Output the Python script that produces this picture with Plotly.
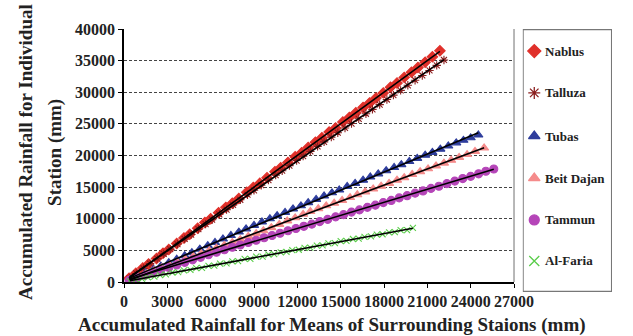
import numpy as np
import plotly.graph_objects as go

# ---------------- data ----------------
names = ["Nablus", "Talluza", "Tubas", "Beit Dajan", "Tammun", "Al-Faria"]

nablus_x = [350, 820, 1300, 1700, 2250, 2700, 3100, 3650, 4150, 4550, 5100, 5600, 6000, 6550, 7050, 7500,
            7950, 8500, 8950, 9400, 9900, 10450, 10850, 11350, 11850, 12300, 12750, 13250, 13700, 14200,
            14650, 15150, 15600, 16050, 16550, 17000, 17450, 17950, 18450, 18900, 19400, 19900, 20350,
            20850, 21350, 21870]
nablus_y = [600, 1400, 2200, 2850, 3700, 4550, 5150, 6100, 6950, 7550, 8500, 9400, 10000, 10950, 11800,
            12450, 13200, 14200, 14950, 15600, 16500, 17450, 18050, 18900, 19800, 20450, 21250, 22100,
            22800, 23700, 24350, 25300, 26000, 26750, 27600, 28300, 29100, 29900, 30800, 31450, 32350,
            33150, 33900, 34750, 35600, 36550]

talluza_x = [380, 850, 1350, 1800, 2300, 2750, 3200, 3700, 4200, 4650, 5150, 5650, 6100, 6600, 7100, 7550,
             8050, 8550, 9000, 9500, 10000, 10500, 10950, 11450, 11950, 12400, 12900, 13400, 13850, 14350,
             14800, 15300, 15750, 16250, 16750, 17200, 17700, 18200, 18650, 19150, 19650, 20150, 20650,
             21150, 21650, 22150]
talluza_y = [550, 1350, 2150, 2900, 3700, 4450, 5200, 6000, 6800, 7500, 8350, 9150, 9850, 10700, 11450,
             12200, 13000, 13800, 14500, 15300, 16100, 16900, 17600, 18400, 19200, 19900, 20650, 21450,
             22150, 22900, 23600, 24350, 25050, 25800, 26600, 27300, 28050, 28850, 29550, 30300, 31100,
             31900, 32650, 33450, 34250, 35100]

tubas_x = [400, 950, 1500, 2050, 2550, 3100, 3650, 4200, 4700, 5250, 5800, 6300, 6850, 7400, 7950, 8450,
           9000, 9550, 10100, 10600, 11150, 11700, 12250, 12750, 13300, 13850, 14400, 14900, 15450, 16000,
           16550, 17050, 17600, 18150, 18700, 19200, 19750, 20300, 20850, 21350, 21900, 22450, 23000,
           23500, 24000, 24530]
tubas_y = [380, 900, 1450, 2000, 2500, 3050, 3600, 4150, 4650, 5200, 5750, 6250, 6800, 7350, 7900, 8400,
           8950, 9500, 10000, 10500, 11000, 11550, 12050, 12550, 13050, 13600, 14100, 14550, 15100, 15600,
           16100, 16600, 17100, 17600, 18100, 18550, 19050, 19550, 20050, 20500, 21000, 21500, 22000,
           22400, 22800, 23240]

beit_x = [420, 980, 1530, 2080, 2600, 3150, 3700, 4250, 4800, 5350, 5900, 6400, 6950, 7500, 8050, 8600,
          9150, 9650, 10200, 10750, 11300, 11850, 12400, 12900, 13450, 14000, 14550, 15100, 15650, 16150,
          16700, 17250, 17800, 18350, 18900, 19400, 19950, 20500, 21050, 21600, 22150, 22650, 23200, 23750,
          24300, 24930]
beit_y = [330, 820, 1300, 1780, 2220, 2680, 3150, 3600, 4050, 4500, 4950, 5350, 5800, 6250, 6700, 7200,
          7650, 8100, 8600, 9100, 9650, 10150, 10700, 11150, 11600, 12050, 12450, 12900, 13350, 13800,
          14250, 14700, 15150, 15600, 16100, 16500, 17000, 17450, 17900, 18350, 18800, 19250, 19700, 20150,
          20650, 21190]

tammun_x = [350, 900, 1450, 2000, 2550, 3100, 3650, 4200, 4750, 5300, 5850, 6400, 6950, 7500, 8050, 8600,
            9150, 9700, 10250, 10800, 11350, 11900, 12450, 13000, 13550, 14100, 14650, 15200, 15750, 16300,
            16850, 17400, 17950, 18500, 19050, 19600, 20150, 20700, 21250, 21800, 22350, 22900, 23450,
            24000, 24550, 25050, 25600]
tammun_y = [250, 650, 1050, 1450, 1850, 2300, 2700, 3100, 3500, 3900, 4300, 4700, 5100, 5500, 5850, 6250,
            6600, 7000, 7350, 7700, 8100, 8450, 8800, 9150, 9550, 9900, 10300, 10650, 11050, 11400, 11800,
            12150, 12550, 12900, 13300, 13650, 14050, 14400, 14800, 15150, 15550, 15950, 16350, 16700,
            17100, 17500, 17870]

faria_x = [400, 820, 1250, 1650, 2100, 2500, 2900, 3350, 3750, 4150, 4600, 5000, 5400, 5850, 6250, 6650,
           7100, 7500, 7900, 8350, 8750, 9150, 9600, 10000, 10400, 10850, 11250, 11650, 12100, 12500, 12900,
           13350, 13750, 14150, 14600, 15000, 15400, 15850, 16250, 16650, 17100, 17500, 17900, 18350, 18750,
           19150, 19600, 20000]
faria_y = [150, 400, 500, 750, 850, 1100, 1200, 1500, 1550, 1850, 1900, 2200, 2250, 2550, 2600, 2900, 2950,
           3250, 3300, 3650, 3650, 4000, 4000, 4350, 4400, 4700, 4750, 5050, 5100, 5400, 5450, 5750, 5800,
           6100, 6150, 6450, 6500, 6800, 6850, 7150, 7200, 7500, 7550, 7850, 7900, 8200, 8200, 8540]

x_ticks = [0, 3000, 6000, 9000, 12000, 15000, 18000, 21000, 24000, 27000]
y_ticks = [0, 5000, 10000, 15000, 20000, 25000, 30000, 35000, 40000]

series_x = [nablus_x, talluza_x, tubas_x, beit_x, tammun_x, faria_x]
series_y = [nablus_y, talluza_y, tubas_y, beit_y, tammun_y, faria_y]

# ---------------- styles ----------------
colors = ["#E0302A", "#8B1E1E", "#2E3D9C", "#F58B8B", "#B545B8", "#5ACD4A"]
symbols = ["diamond", "asterisk-open", "triangle-up", "triangle-up", "circle", "x-thin-open"]
sizes = [8, 7, 8, 8, 8, 6]
FONT = "Liberation Serif"

fig = go.Figure()

for n, xs, ys, c, s, sz in zip(names, series_x, series_y, colors, symbols, sizes):
    fig.add_trace(go.Scatter(
        x=xs, y=ys, mode="markers", name=n, showlegend=False,
        marker=dict(symbol=s, color=c, size=sz, line=dict(color=c, width=1.1)),
        xaxis="x", yaxis="y"))

# linear trend lines (least squares fit of each series)
for xs, ys in zip(series_x, series_y):
    a, b = np.polyfit(xs, ys, 1)
    xx = np.array([min(xs), max(xs)])
    fig.add_trace(go.Scatter(x=xx, y=a * xx + b, mode="lines", showlegend=False,
                             line=dict(color="black", width=1.6), hoverinfo="skip",
                             xaxis="x", yaxis="y"))

# ---------------- manual legend on a hidden axis ----------------
leg_y = [0.916, 0.757, 0.593, 0.433, 0.274, 0.118]
for n, c, s, ly in zip(names, colors, symbols, leg_y):
    fig.add_trace(go.Scatter(x=[0.13], y=[ly], mode="markers", showlegend=False, hoverinfo="skip",
                             marker=dict(symbol=s, color=c, size=10, line=dict(color=c, width=1.3)),
                             xaxis="x2", yaxis="y2"))
    fig.add_annotation(x=0.225, y=ly, xref="x2", yref="y2", text="<b>%s</b>" % n, showarrow=False,
                       xanchor="left", yanchor="middle",
                       font=dict(family=FONT, size=13, color="#222"))

fig.add_shape(type="rect", xref="x2", yref="y2", x0=0.005, x1=0.995, y0=0.002, y1=0.998,
              line=dict(color="#777", width=1.2), fillcolor="rgba(0,0,0,0)")

# right border of plot area
fig.add_shape(type="line", xref="x domain", yref="y domain", x0=1, x1=1, y0=0, y1=1,
              line=dict(color="#888", width=1.2))

# axis titles
fig.add_annotation(x=-0.203, y=0.532, xref="paper", yref="paper", textangle=-90, showarrow=False,
                   text="<b>Accumulated Rainfall for Individual</b>",
                   font=dict(family=FONT, size=19, color="#222"), xanchor="center", yanchor="middle")
fig.add_annotation(x=-0.1417, y=0.532, xref="paper", yref="paper", textangle=-90, showarrow=False,
                   text="<b>Station (mm)</b>",
                   font=dict(family=FONT, size=19, color="#222"), xanchor="center", yanchor="middle")
fig.add_annotation(x=0.426, y=-0.125, xref="paper", yref="paper", showarrow=False,
                   text="<b>Accumulated Rainfall for Means of Surrounding Staions (mm)</b>",
                   font=dict(family=FONT, size=19, color="#222"), xanchor="center", yanchor="middle")

fig.update_layout(
    width=633, height=336,
    margin=dict(l=124, r=1, t=29, b=44),
    paper_bgcolor="white", plot_bgcolor="white",
    showlegend=False,
    font=dict(family=FONT, color="#222"),
    xaxis=dict(domain=[0, 406 / 508], range=[0, 27000], tickvals=x_ticks,
               ticktext=["<b>%d</b>" % v for v in x_ticks],
               showgrid=False, zeroline=False, showline=True, linecolor="black", linewidth=1.5,
               ticks="outside", ticklen=4, tickcolor="black",
               tickfont=dict(family=FONT, size=16, color="#222")),
    yaxis=dict(domain=[10 / 263, 1], range=[0, 40000], tickvals=y_ticks,
               ticktext=["<b>%d</b>" % v for v in y_ticks],
               showgrid=True, gridcolor="#444", griddash="3px,2px", gridwidth=1,
               zeroline=False, showline=True, linecolor="black", linewidth=1.5,
               ticks="outside", ticklen=4, tickcolor="black",
               tickfont=dict(family=FONT, size=16, color="#222")),
    xaxis2=dict(domain=[415 / 508, 1.0], range=[0, 1], visible=False, fixedrange=True),
    yaxis2=dict(domain=[0, 1], range=[0, 1], visible=False, fixedrange=True, anchor="x2"),
)

fig.write_html("out.html", config={"displayModeBar": False},
               post_script="document.body.style.margin='0';document.body.style.padding='0';")
